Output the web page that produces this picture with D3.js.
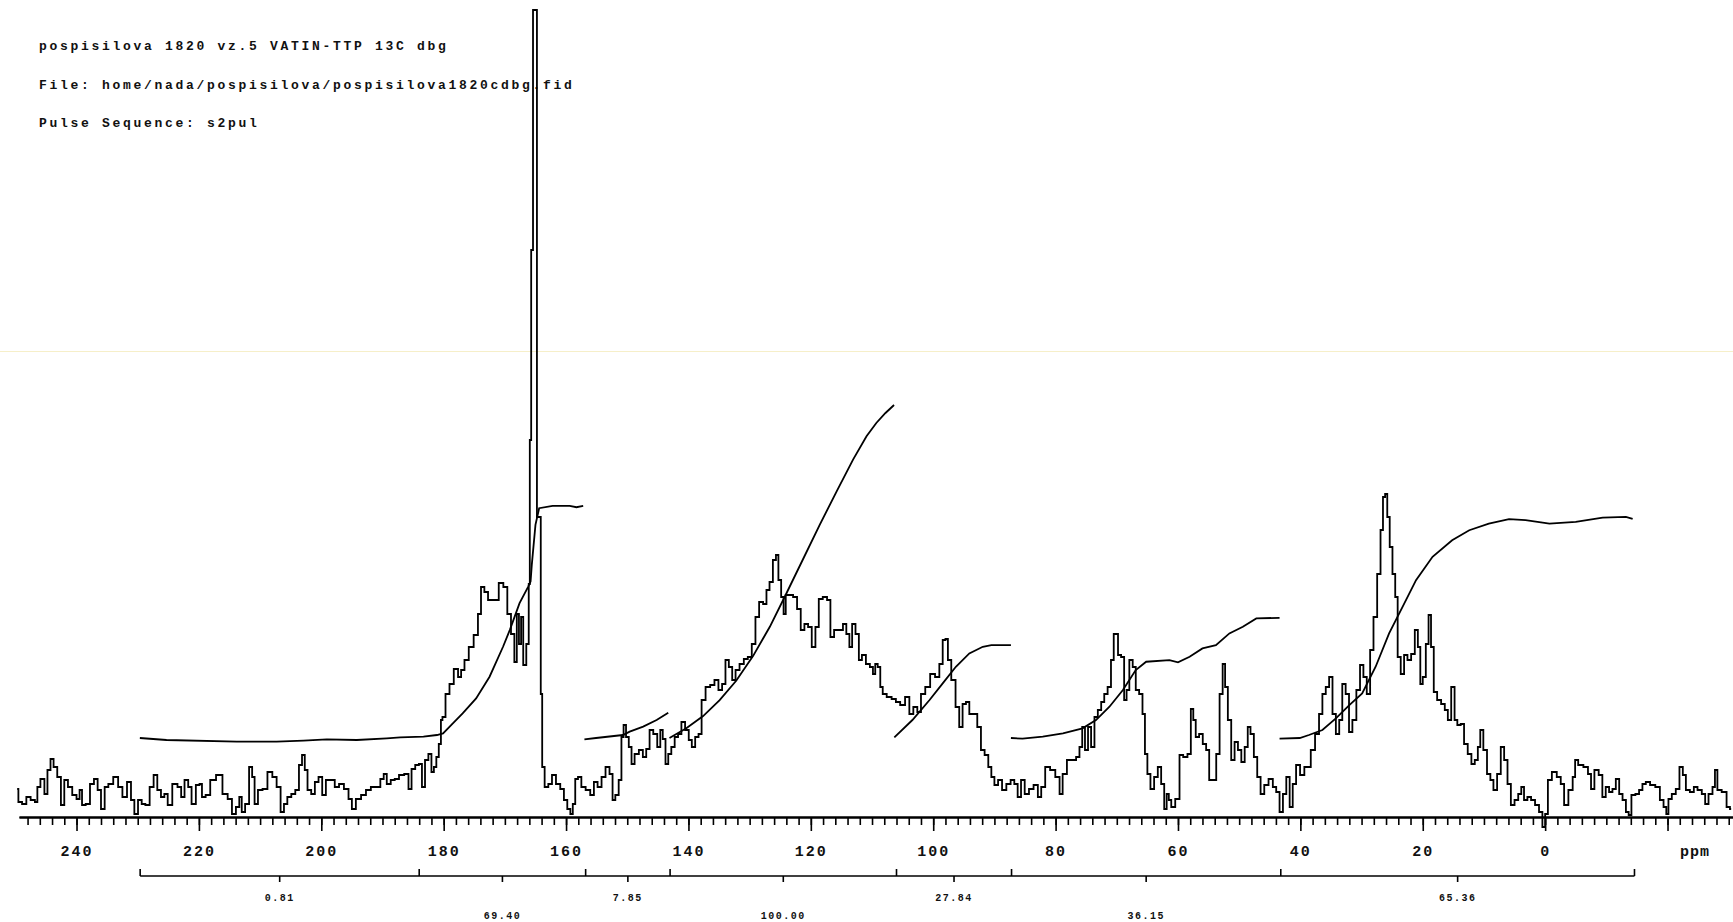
<!DOCTYPE html>
<html>
<head>
<meta charset="utf-8">
<script src="https://cdn.jsdelivr.net/npm/d3@7/dist/d3.min.js"></script>
<style>
  html, body { margin: 0; padding: 0; background: #fff; }
  svg { display: block; }
  text { font-family: 'Liberation Mono', 'DejaVu Sans Mono', monospace; font-weight: bold; fill: #111; }
</style>
</head>
<body>
<svg id="chart"></svg>
<script>
// header text, as printed by the spectrometer
let headerLines = [
    'pospisilova 1820 vz.5 VATIN-TTP 13C dbg',
    'File: home/nada/pospisilova/pospisilova1820cdbg.fid',
    'Pulse Sequence: s2pul'
]

// 13C spectrum, [ppm, intensity]
let spectrum = [
    [249.7,28],[249.3,15],[248.5,13],[247.9,20],[247.1,17],[246.5,15],[246.3,30],[245.5,38],[245.0,23],[244.5,47],
    [244.0,58],[243.5,50],[242.8,40],[242.3,12],[241.7,37],[241.1,30],[240.3,22],[239.7,18],[239.3,27],[238.9,12],
    [238.1,13],[237.5,33],[236.8,38],[236.3,27],[235.7,8],[235.1,30],[234.5,33],[233.5,40],[232.9,30],[232.1,20],
    [231.4,35],[230.8,17],[230.3,3],[229.6,17],[229.1,13],[228.4,12],[227.7,30],[227.1,42],[226.5,27],[225.9,20],
    [225.4,23],[224.8,12],[223.9,33],[223.1,30],[222.7,20],[222.0,37],[221.5,30],[220.9,13],[220.1,32],[219.7,33],
    [219.3,20],[218.5,22],[217.8,37],[216.6,42],[215.7,23],[214.9,18],[214.3,3],[213.6,10],[213.2,20],[212.8,5],
    [212.1,13],[211.5,50],[211.1,40],[210.7,13],[210.0,27],[209.2,28],[208.4,45],[207.6,40],[207.0,30],[206.3,5],
    [205.9,13],[205.2,20],[204.6,23],[203.9,27],[203.4,52],[202.9,62],[202.5,47],[202.0,27],[201.3,23],[200.8,35],
    [200.1,40],[199.6,22],[198.9,37],[198.1,37],[197.5,30],[196.7,33],[195.9,28],[195.2,18],[194.8,8],[193.9,18],
    [193.1,22],[192.3,27],[191.5,30],[190.7,30],[190.0,38],[189.6,43],[189.0,33],[188.3,37],[187.7,38],[186.9,42],
    [186.0,43],[185.5,28],[185.0,48],[184.3,52],[183.8,53],[183.3,30],[182.8,57],[182.2,63],[181.8,45],[181.4,50],
    [181.0,60],[180.6,73],[180.3,97],
    [180.1,100],[179.3,123],[178.8,133],[177.9,148],[177.4,140],[176.9,147],[176.3,157],[175.5,170],[174.7,182],[174.1,203],
    [173.7,230],[173.0,225],[172.5,217],[171.4,217],[170.6,234],[169.9,230],[169.3,203],[168.7,183],[168.2,155],[167.9,203],
    [167.5,173],[167.2,200],[166.8,152],[166.2,173],[166.0,233],[165.85,377],[165.55,567],[165.25,807],[164.27,300],[164.0,123],
    [163.8,50],[163.2,30],[162.6,33],[162.0,42],[161.3,33],[160.6,28],[160.1,17],[159.5,8],[159.1,3],[158.7,13],
    [158.3,38],[157.8,40],[157.2,30],[156.4,27],[155.7,22],[155.2,35],[154.5,30],[153.9,40],[153.2,50],[152.6,43],
    [152.2,17],[151.7,22],[151.1,37],[150.8,80],[150.4,92],[150.0,80],[149.5,70],[149.1,53],[148.5,63],[147.7,67],
    [147.2,60],[146.6,68],[146.1,87],[145.4,83],[144.8,70],[144.4,87],[144.0,78],[143.5,53],[143.1,63],[142.5,70],
    [142.0,80],[141.4,83],[140.9,95],[140.2,87],[139.7,77],[139.2,70],[138.6,80],[138.1,83],[137.6,117],[136.8,130],
    [136.1,132],[135.4,137],[134.8,127],[134.2,133],[133.7,157],[133.1,150],[132.6,137],[132.0,147],[131.3,153],[130.6,158],
    [130.0,160],[129.3,173],[128.8,200],[128.1,215],[127.5,213],[127.0,227],[126.5,235],[125.9,257],[125.5,262],[125.1,237],
    [124.6,220],[124.3,203],[123.9,222],[123.2,222],[122.6,220],[121.9,208],[121.4,187],[120.7,193],[120.2,190],[119.5,170],
    [119.0,190],[118.4,218],[117.7,220],[117.0,217],[116.6,180],[115.8,187],[115.0,187],[114.5,193],[113.9,183],[113.5,170],
    [113.0,193],[112.4,183],[111.9,157],[111.4,162],[110.6,153],[110.1,150],[109.6,143],
    [109.35,153],[108.8,150],[108.5,130],[108.0,123],[107.2,120],[106.4,118],[105.8,115],[105.0,112],[104.2,120],[103.6,103],
    [102.9,110],[102.3,105],[101.7,123],[100.9,130],[100.1,143],[99.3,140],[98.7,153],[98.2,177],[97.8,178],[97.4,157],
    [96.7,137],[96.0,110],[95.5,90],[94.9,113],[94.4,115],[93.8,103],[93.1,103],[92.5,90],[91.9,67],[91.3,62],
    [90.7,50],[90.3,40],[89.7,32],[89.1,37],[88.4,27],[87.7,33],[87.0,37],[86.5,33],[85.9,20],[85.4,37],
    [84.7,23],[84.0,28],[83.2,32],[82.6,20],[82.1,30],[81.3,50],[80.5,47],[79.6,40],[79.1,23],[78.6,43],
    [77.7,57],[76.9,57],[76.4,60],[75.8,70],[75.5,90],[74.9,67],[74.5,90],[73.9,70],[73.4,100],[72.8,107],
    [72.3,115],[71.8,123],[71.2,130],[70.7,157],[70.3,183],[70.0,183],[69.6,162],[69.0,160],[68.6,117],[68.2,127],
    [67.7,157],[67.1,150],[66.7,127],[66.0,123],[65.6,103],[65.2,63],[64.8,43],[64.2,28],[63.6,40],[63.0,50],
    [62.5,33],[62.0,8],[61.7,23],[61.3,17],[60.9,10],[60.0,18],[59.5,62],[58.8,60],[58.1,63],[57.7,108],
    [57.3,97],[56.9,80],[56.2,83],[55.7,73],[55.1,67],[54.7,37],[54.0,37],[53.5,63],[52.9,123],[52.5,153],
    [52.1,130],[51.6,97],[51.0,57],[50.5,75],[49.9,67],[49.4,55],[48.8,70],[48.4,90],[47.9,83],[47.3,60],
    [46.8,40],[46.2,23],[45.6,32],[44.8,38],[44.2,30],[43.7,25],[43.1,5],[42.6,23],[42.0,40],[41.5,10],
    [41.0,33],[40.4,52],[39.7,42],[39.0,50],
    [38.6,50],[38.0,67],[37.2,83],[36.7,103],[36.1,123],[35.6,130],[35.0,140],[34.5,103],[33.9,83],[33.4,97],
    [32.9,133],[32.3,123],[31.8,85],[31.2,97],[30.5,127],[30.0,152],[29.4,140],[28.9,123],[28.3,167],[27.8,200],
    [27.1,243],[26.7,287],[26.3,320],[26.0,323],[25.6,300],[25.2,270],[24.7,243],[24.3,220],[23.9,160],[23.3,143],
    [22.8,162],[22.2,157],[21.6,163],[21.0,187],[20.6,170],[20.2,133],[19.8,140],[19.2,173],[18.9,202],[18.4,170],
    [18.0,125],[17.3,117],[16.7,113],[16.1,107],[15.7,97],[15.0,130],[14.6,97],[14.1,92],[13.5,93],[13.0,73],
    [12.3,63],[11.8,53],[11.2,57],[10.8,70],[10.4,87],[9.8,67],[9.2,43],[8.7,37],[8.2,27],[7.5,43],
    [7.0,70],[6.4,57],[5.9,33],[5.3,12],[4.7,17],[4.1,23],[3.7,30],[3.2,17],[2.6,20],[2.0,17],
    [1.3,12],[0.7,5],[0.2,-10],[-0.2,3],[-0.7,37],[-1.5,45],[-2.3,40],[-2.8,33],[-3.4,12],[-4.2,27],
    [-4.8,40],[-5.0,57],[-5.8,52],[-6.7,50],[-7.3,43],[-7.7,28],[-8.4,47],[-9.1,42],[-9.6,20],[-10.2,30],
    [-10.7,25],[-11.3,28],[-11.8,38],[-12.4,23],[-12.9,17],[-13.5,5],[-13.8,2],[-14.4,22],[-15.1,23],[-15.6,27],
    [-16.2,33],[-16.7,35],[-17.6,32],[-18.4,30],[-19.1,17],[-19.6,10],[-20.0,3],[-20.3,18],[-21.1,23],[-21.6,28],
    [-22.3,50],[-22.7,42],[-23.3,27],[-24.0,25],[-24.6,30],[-25.2,27],[-26.0,23],[-26.3,13],[-27.1,23],[-27.6,30],
    [-27.9,47],[-28.4,27],[-29.3,25],[-30.0,10],[-30.4,8]
]

// integral traces, one per region, [ppm, integral] (100 = the 100.00 region)
let integral1 = [[229.65,0],[225.3,-0.6],[213.8,-1.1],[207.3,-1.1],[202.9,-0.8],[199.1,-0.4],[194.2,-0.6],[189.3,-0.1],
    [187.1,0.2],[183.3,0.4],[181.1,0.9],[180.1,1.4],[178.5,4.4],[176.9,7.4],[174.7,11.9],[172.5,18.4],[170.3,27.4],
    [169.2,32.4],[167.6,40.5],[166.2,45.4],[165.8,47],[165.6,52],[165.0,64],[164.4,69],[162.2,69.7],[159.4,69.7],
    [158.3,69.3],[157.2,69.7]]
let integral2 = [[157.0,-0.4],[155.1,0],[150.7,0.9],[149.6,1.9],[147.4,3.4],[145.2,5.4],[143.3,7.6]]
let integral3 = [[143.1,0],[140.35,2.9],[137.6,6.6],[134.9,11.4],[132.2,17.2],[129.45,24.6],[126.7,33.4],[124.0,43.4],
    [121.3,53.6],[118.55,64],[115.8,74],[113.1,83.6],[110.9,90.6],[109.3,94.6],[107.8,97.6],[106.4,100]]
let integral4 = [[106.35,0.2],[103.4,5.4],[100.6,11.4],[98.45,16.4],[96.3,21.4],[94.1,25.4],[91.9,27.4],[90.5,27.9],[87.3,27.9]]
let integral5 = [[87.3,0],[85.4,-0.2],[82.1,0.4],[78.8,1.4],[75.6,2.9],[73.4,5.4],[71.2,9.4],[69.0,14.4],[66.9,20.4],
    [65.2,22.9],[61.4,23.4],[60.0,22.7],[58.1,24.4],[56.0,26.9],[53.8,27.9],[51.6,31.4],[49.4,33.4],[47.2,35.9],[43.4,36.1]]
let integral6 = [[43.4,-0.2],[40.1,0],[38.6,0.9],[36.4,2.4],[34.2,5.9],[32.0,9.9],[29.9,13.4],[27.7,21.4],[25.5,31.4],
    [23.3,39.4],[21.1,47.4],[18.4,54.4],[15.2,59.4],[12.4,62.4],[9.2,64.4],[5.9,65.7],[3.2,65.4],[-0.7,64.4],
    [-5.0,64.9],[-9.4,66.2],[-13.2,66.4],[-14.3,65.8]]

// integral region limits (ppm) and the printed values
let integralBounds = [229.6, 184.0, 156.8, 143.0, 106.0, 87.2, 43.2, -14.6]
let integralLabels = ['0.81', '69.40', '7.85', '100.00', '27.84', '36.15', '65.36']

let majorTicks = d3.range(240, -21, -20)
let minorTicks = d3.range(248, -31, -2)

let width = 1733,
    height = 922,
    axisY = 817,
    bracketY = 876

let $svg = d3.select('#chart')
    .attr('width', width)
    .attr('height', height)

$svg.append('rect')
    .attr('width', width)
    .attr('height', height)
    .attr('fill', '#fff')

let x = d3.scaleLinear().domain([249.4, -30.7]).range([19, 1733])
let y = d3.scaleLinear().domain([0, 808]).range([axisY, 9])
let yInt = d3.scaleLinear().domain([0, 100]).range([738, 405])

// faint scan line across the page
$svg.append('line')
    .attr('x1', 0).attr('x2', width)
    .attr('y1', 351.5).attr('y2', 351.5)
    .attr('stroke', '#f6efc9')
    .attr('stroke-width', 1)

// header
$svg.append('g').selectAll('text')
    .data(headerLines)
    .enter().append('text')
    .attr('x', 39)
    .attr('y', (d, i) => 50 + i * 38.5)
    .attr('font-size', 13)
    .attr('letter-spacing', 2.7)
    .text(d => d)

// axis
let $axis = $svg.append('g').attr('transform', 'translate(0,' + axisY + ')')
$axis.append('g')
    .call(d3.axisBottom(x).tickValues(minorTicks).tickSize(8).tickSizeOuter(0).tickFormat(''))
$axis.append('g')
    .call(d3.axisBottom(x).tickValues(majorTicks).tickSize(14).tickSizeOuter(0).tickPadding(14)
        .tickFormat(d => d < 0 ? '' : d))
$axis.selectAll('.domain').attr('stroke', '#000').attr('stroke-width', 2)
$axis.selectAll('.tick line').attr('stroke', '#000').attr('stroke-width', 1.6)
$axis.selectAll('.tick text')
    .attr('font-size', 15)
    .attr('letter-spacing', 2)
    .attr('font-family', null)
    .attr('fill', '#111')

$svg.append('text')
    .attr('x', 1695)
    .attr('y', 856)
    .attr('text-anchor', 'middle')
    .attr('font-size', 15)
    .attr('letter-spacing', 1)
    .text('ppm')

// spectrum
let spectrumLine = d3.line()
    .x(d => x(d[0]))
    .y(d => y(d[1]))
    .curve(d3.curveStep)

$svg.append('path')
    .datum(spectrum)
    .attr('d', spectrumLine)
    .attr('fill', 'none')
    .attr('stroke', '#000')
    .attr('stroke-width', 1.8)
    .attr('stroke-linejoin', 'miter')

// integrals
let integralLine = d3.line()
    .x(d => x(d[0]))
    .y(d => yInt(d[1]))

$svg.append('g').selectAll('path')
    .data([integral1, integral2, integral3, integral4, integral5, integral6])
    .enter().append('path')
    .attr('d', integralLine)
    .attr('fill', 'none')
    .attr('stroke', '#000')
    .attr('stroke-width', 1.8)

// integral bracket with region marks and values
let $bracket = $svg.append('g')
$bracket.append('line')
    .attr('x1', x(integralBounds[0]))
    .attr('x2', x(integralBounds[integralBounds.length - 1]))
    .attr('y1', bracketY).attr('y2', bracketY)
    .attr('stroke', '#000').attr('stroke-width', 1.6)
$bracket.selectAll('line.edge')
    .data(integralBounds)
    .enter().append('line')
    .attr('class', 'edge')
    .attr('x1', d => x(d)).attr('x2', d => x(d))
    .attr('y1', bracketY - 7).attr('y2', bracketY)
    .attr('stroke', '#000').attr('stroke-width', 1.6)

let centers = integralLabels.map((t, i) => (integralBounds[i] + integralBounds[i + 1]) / 2)
$bracket.selectAll('line.mid')
    .data(centers)
    .enter().append('line')
    .attr('class', 'mid')
    .attr('x1', d => x(d)).attr('x2', d => x(d))
    .attr('y1', bracketY).attr('y2', bracketY + 6)
    .attr('stroke', '#000').attr('stroke-width', 1.6)
$bracket.selectAll('text')
    .data(integralLabels)
    .enter().append('text')
    .attr('x', (d, i) => x(centers[i]))
    .attr('y', (d, i) => i % 2 === 0 ? 901 : 919)
    .attr('text-anchor', 'middle')
    .attr('font-size', 10)
    .attr('letter-spacing', 1.5)
    .text(d => d)
</script>
</body>
</html>
